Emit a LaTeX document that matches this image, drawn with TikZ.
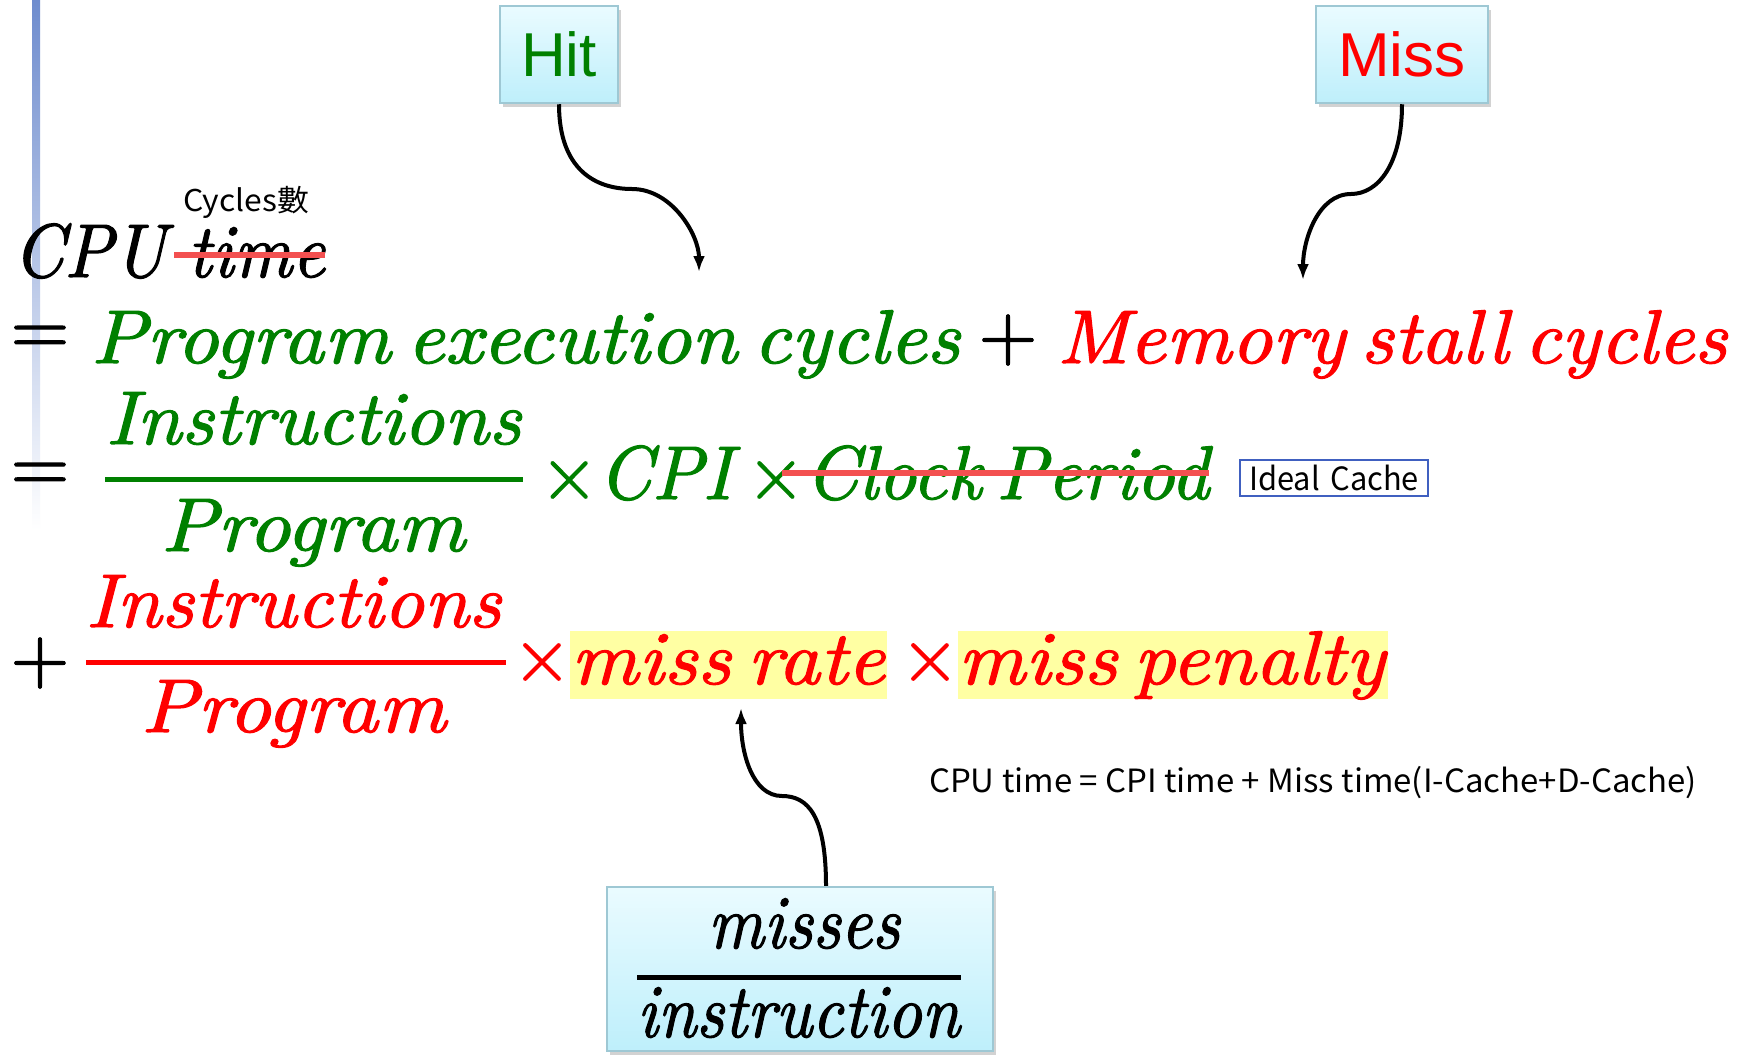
\documentclass[tikz,border=0pt]{standalone}
\usepackage{fontspec}
\usepackage{graphicx}
\usetikzlibrary{arrows.meta,shadows}
\newfontfamily\arialf{Liberation Sans}
\newfontfamily\cjkf{Noto Sans CJK TC}
\newfontfamily\eqf{lmroman10}[Extension=.otf, UprightFont=*-regular, ItalicFont=*-italic, FakeBold=1.5]
\newcommand{\fitw}[2]{\resizebox{#1}{\height}{#2}}
\newcommand{\ws}{\hspace{0.2em}}
\definecolor{eqgreen}{RGB}{0,128,0}
\definecolor{eqred}{RGB}{255,0,0}
\definecolor{strike}{RGB}{243,80,80}
\definecolor{hilite}{RGB}{255,255,163}
\definecolor{boxtop}{RGB}{234,251,255}
\definecolor{boxbot}{RGB}{190,239,251}
\definecolor{boxedge}{RGB}{158,200,212}
\definecolor{idealblue}{RGB}{64,96,192}
\definecolor{barblue}{RGB}{110,140,206}
\begin{document}
\begin{tikzpicture}[x=1pt,y=-1pt,
  eq/.style={inner sep=0pt, outer sep=0pt, anchor=base west, font=\eqf\fontsize{76}{80}\selectfont\itshape},
  sym/.style={inner sep=0pt, outer sep=0pt, anchor=center, font=\eqf\fontsize{76}{80}\selectfont},
  callout/.style={draw=boxedge, line width=2.5pt, top color=boxtop, bottom color=boxbot, inner sep=0pt,
    drop shadow={shadow xshift=3pt, shadow yshift=-4pt, opacity=0.35, fill=gray}},
  note/.style={inner sep=0pt, anchor=center, font=\cjkf\fontsize{32}{34}\selectfont},
  strikeline/.style={strike, line width=6pt},
  fracbar/.style={line width=5pt},
  curved/.style={line width=4pt, -{Latex[length=16pt,width=12pt]}},
  hl/.style={fill=hilite, inner sep=0pt, outer sep=0pt},
]
\useasboundingbox (0,0) rectangle (1739,1060);
\fill[white] (0,0) rectangle (1739,1060);
% left decorative bar
\shade[top color=barblue, bottom color=white] (32,0) rectangle (40,530);

% callout boxes
\node[callout, minimum width=118pt, minimum height=97pt, font=\arialf\fontsize{62}{64}\selectfont, text=eqgreen] (hit) at (559,54.5) {Hit};
\node[callout, minimum width=172pt, minimum height=97pt, font=\arialf\fontsize{62}{64}\selectfont, text=eqred] (miss) at (1402,54.5) {Miss};
\node[callout, minimum width=386pt, minimum height=164pt] (misses) at (800,969) {};

% line 1
\node[eq] (cpu) at (13,277) {\fitw{312pt}{CPU\hspace{0.3em}time}};
\draw[strikeline] (174,255) -- (325,255);
\node[note, font=\cjkf\fontsize{30}{32}\selectfont] (cyc) at (246,202) {\fitw{126pt}{Cycles數}};

% line 2
\node[sym] (eq1) at (40,340) {=};
\node[eq, text=eqgreen] (pec) at (91,363) {\fitw{869pt}{Program\ws execution\ws cycles}};
\node[sym] (plus1) at (1008,340) {+};
\node[eq, text=eqred] (msc) at (1057,363) {\fitw{670pt}{Memory\ws stall\ws cycles}};

% line 3
\node[sym] (eq2) at (40,477) {=};
\node[eq, text=eqgreen] (num1) at (106,444) {\fitw{415pt}{Instructions}};
\draw[fracbar, eqgreen] (105,479) -- (523,479);
\node[eq, text=eqgreen] (den1) at (161,551) {\fitw{304pt}{Program}};
\node[eq, text=eqgreen] (cpi) at (540,499) {\fitw{669pt}{{\upshape ×}CPI\ws{\upshape ×}Clock\ws Period}};
\draw[strikeline] (782,473) -- (1209,473);
\node[draw=idealblue, line width=2pt, minimum width=188pt, minimum height=36pt, note] (ideal) at (1334,478) {\fitw{170pt}{Ideal\hspace{0.35em}Cache}};

% line 4
\node[sym] (plus2) at (40,663) {+};
\node[eq, text=eqred] (num2) at (86,627) {\fitw{415pt}{Instructions}};
\draw[fracbar, eqred] (86,662) -- (506,662);
\node[eq, text=eqred] (den2) at (141,732) {\fitw{305pt}{Program}};
\node[sym, text=eqred] (x3) at (542,662) {×};
\node[hl, minimum width=317pt, minimum height=68pt] (mrbox) at (728.5,665) {};
\node[eq, text=eqred] (mrate) at (571,684) {\fitw{314pt}{miss\ws rate}};
\node[sym, text=eqred] (x4) at (930,662) {×};
\node[hl, minimum width=430pt, minimum height=68pt] (mpbox) at (1173,665) {};
\node[eq, text=eqred] (mpen) at (958,684) {\fitw{427pt}{miss\ws penalty}};

% note
\node[note] (cpunote) at (1313,783) {\fitw{768pt}{CPU time = CPI time + Miss time(I-Cache+D-Cache)}};

% misses / instruction
\node[eq] (mnum) at (708,948) {\fitw{192pt}{misses}};
\draw[fracbar] (637,977) -- (961,977);
\node[eq] (mden) at (637,1037) {\fitw{323pt}{instruction}};

% connectors
\coordinate (hitend) at (699,272);
\coordinate (missend) at (1303,280);
\coordinate (mrend) at (741,708);
\draw[curved] (hit.south) .. controls +(0,65) and (595,189) .. (632,189) .. controls (672,189) and (699,235) .. (hitend);
\draw[curved] (miss.south) .. controls +(0,60) and (1378,194) .. (1351,194) .. controls (1318,194) and (1303,240) .. (missend);
\draw[curved] ([xshift=26pt]misses.north) .. controls +(0,-70) and (808,796) .. (782,796) .. controls (752,796) and (741,752) .. (mrend);
\end{tikzpicture}
\end{document}
